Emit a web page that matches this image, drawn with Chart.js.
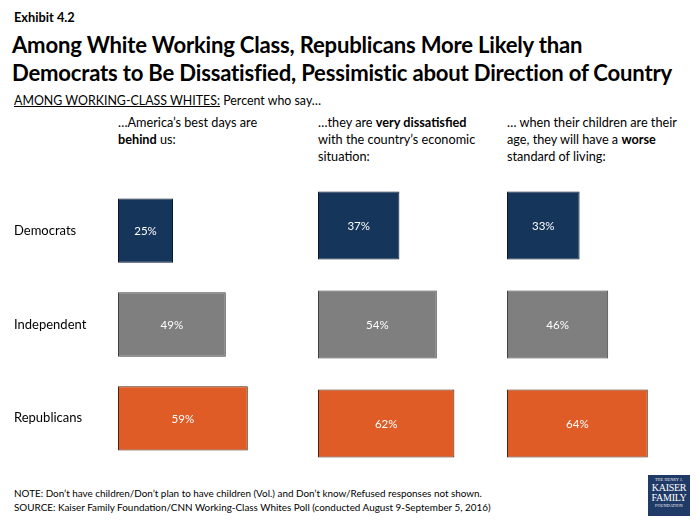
<!DOCTYPE html>
<html>
<head>
<meta charset="utf-8">
<script src="https://cdn.jsdelivr.net/npm/chart.js@4"></script>
<style>
  html, body { margin:0; padding:0; width:698px; height:523px; overflow:hidden; background:#fff; font-family: Lato, "Open Sans", sans-serif; color:#000; }
  .abs { position:absolute; white-space:nowrap; }
  #exhibit { left:14px; top:9px; font-size:12.8px; font-weight:bold; }
  #title { left:12px; top:31px; font-size:22.1px; font-weight:bold; line-height:28px; letter-spacing:-0.2px; }
  #sub { left:14px; top:93px; font-size:12.4px; }
  #sub u { text-decoration: underline; }
  .hdr { font-size:12.7px; line-height:17px; top:114px; }
  .note { left:14px; font-size:9.9px; }
  #logo { left:648px; top:475px; width:42px; height:41px; background:#1f3a66; color:#fff; font-family: "Liberation Serif","DejaVu Serif",serif; text-align:center; }
  #logo .s { font-size:4px; line-height:6px; letter-spacing:0.2px; }
  #logo .b { font-size:10px; line-height:10px; letter-spacing:-0.3px; }
  canvas { position:absolute; }
</style>
</head>
<body>
<div id="exhibit" class="abs">Exhibit 4.2</div>
<div id="title" class="abs">Among White Working Class, Republicans More Likely than<br>Democrats to Be Dissatisfied, Pessimistic about Direction of Country</div>
<div id="sub" class="abs"><u>AMONG WORKING-CLASS WHITES:</u> Percent who say…</div>
<div class="abs hdr" style="left:118px;">…America’s best days are<br><b>behind</b> us:</div>
<div class="abs hdr" style="left:318px;">…they are <b>very dissatisfied</b><br>with the country’s economic<br>situation:</div>
<div class="abs hdr" style="left:507px;">… when their children are their<br>age, they will have a <b>worse</b><br>standard of living:</div>

<div style="position:absolute;left:0;top:176px;width:338px;height:297px;"><canvas id="c1"></canvas></div>
<div style="position:absolute;left:318px;top:176px;width:220px;height:297px;"><canvas id="c2"></canvas></div>
<div style="position:absolute;left:507px;top:176px;width:220px;height:297px;"><canvas id="c3"></canvas></div>

<div class="abs note" style="top:487px;">NOTE: Don’t have children/Don’t plan to have children (Vol.) and Don’t know/Refused responses not shown.</div>
<div class="abs note" style="top:501px;">SOURCE: Kaiser Family Foundation/CNN Working-Class Whites Poll (conducted August 9-September 5, 2016)</div>
<div id="logo" class="abs">
  <div class="s" style="margin-top:2px;">THE HENRY J.</div>
  <div class="b">KAISER</div>
  <div class="b">FAMILY</div>
  <div class="s">FOUNDATION</div>
</div>

<script>
const categories = ["Democrats", "Independent", "Republicans"];
const bestDaysBehind = [25, 49, 59];
const veryDissatisfied = [37, 54, 62];
const childrenWorse = [33, 46, 64];

const fillColors = ["#15355a", "#7f7f7f", "#e05c27"];
const borderColors = ["#0a1a2e", "#404040", "#4a2210"];

const valueLabels = {
  id: 'valueLabels',
  afterDatasetsDraw(chart) {
    const ctx = chart.ctx;
    ctx.save();
    ctx.fillStyle = '#ffffff';
    ctx.font = '11.5px Lato, "Open Sans", sans-serif';
    ctx.textAlign = 'center';
    ctx.textBaseline = 'middle';
    chart.getDatasetMeta(0).data.forEach((bar, i) => {
      const v = chart.data.datasets[0].data[i];
      ctx.fillText(v + '%', (bar.x + bar.base) / 2, bar.y + 1);
    });
    ctx.restore();
  }
};

function makeChart(id, values, showLabels) {
  return new Chart(document.getElementById(id), {
    type: 'bar',
    data: {
      labels: categories,
      datasets: [{
        data: values,
        backgroundColor: fillColors,
        borderColor: borderColors,
        borderWidth: 1,
        borderSkipped: false,
        categoryPercentage: 1,
        barPercentage: 0.685
      }]
    },
    options: {
      indexAxis: 'y',
      responsive: true,
      maintainAspectRatio: false,
      animation: false,
      layout: { padding: { left: showLabels ? 14 : 0, right: 0, top: 0, bottom: 0 } },
      plugins: { legend: { display: false }, tooltip: { enabled: false } },
      scales: {
        x: { min: 0, max: 100, display: false },
        y: {
          display: showLabels,
          grid: { display: false },
          border: { display: false },
          ticks: {
            crossAlign: 'far',
            color: '#000',
            padding: 0,
            font: { family: 'Lato, "Open Sans", sans-serif', size: 13 }
          },
          afterFit(scale) { if (showLabels) scale.width = 104; }
        }
      }
    },
    plugins: [valueLabels]
  });
}

makeChart('c1', bestDaysBehind, true);
makeChart('c2', veryDissatisfied, false);
makeChart('c3', childrenWorse, false);
</script>
</body>
</html>
